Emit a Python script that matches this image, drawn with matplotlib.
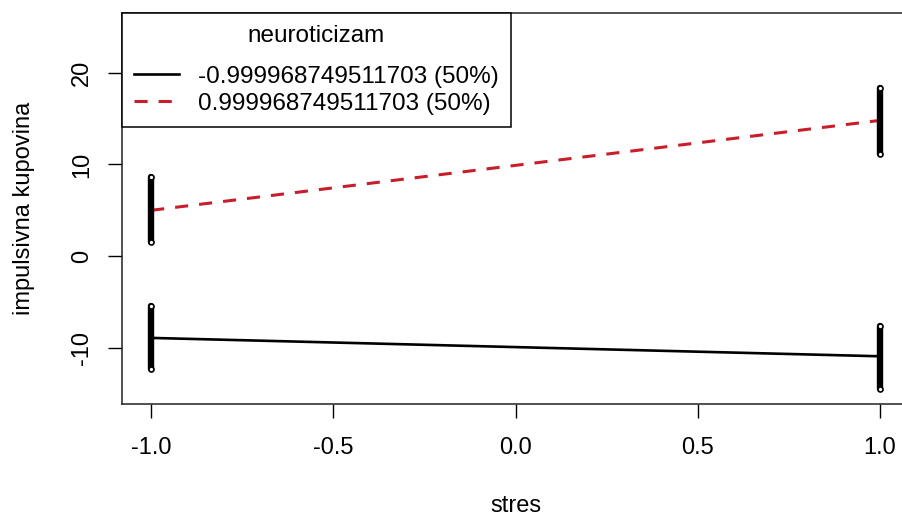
import matplotlib
matplotlib.use("Agg")
import matplotlib.pyplot as plt

plt.rcParams['font.family'] = ['Liberation Sans', 'DejaVu Sans']

# predicted lines (stres from -1 to 1) for the two neuroticizam levels
stres = [-1.0, 1.0]
fit_low = [-8.9, -10.9]
fit_high = [5.0, 14.8]
legend_labels = ["-0.999968749511703 (50%)", "0.999968749511703 (50%)"]

# observed ranges drawn as vertical strips at each stres value
strip_x = [-1.0, -1.0, 1.0, 1.0]
strip_lo = [1.5, -12.3, 11.1, -14.5]
strip_hi = [8.6, -5.4, 18.3, -7.6]

xticks = [-1.0, -0.5, 0.0, 0.5, 1.0]
yticks = [-10, 0, 10, 20]

red = '#c81e2a'
fs = 17

fig = plt.figure(figsize=(9.02, 5.18), dpi=100)
W, H = 902, 518
ax = fig.add_axes([122 / W, 1 - 404 / H, 787 / W, 391 / H])

ax.vlines(strip_x, strip_lo, strip_hi, color='black', lw=4.6, capstyle='round', zorder=3)
for x, lo, hi in zip(strip_x, strip_lo, strip_hi):
    ax.plot([x, x], [lo, hi], 'o', ms=3.6, mfc='white', mec='black', mew=1.2, zorder=4)

ax.plot(stres, fit_low, color='black', lw=1.9, label=legend_labels[0], zorder=2)
ax.plot(stres, fit_high, color=red, lw=2.2, dashes=(4.3, 3.6), label=legend_labels[1], zorder=2)

ax.set_xlim(-1.08, 1.08)
ax.set_ylim(-16.1, 26.5)
ax.set_xticks(xticks)
ax.set_xticklabels([f"{t:.1f}" for t in xticks])
ax.set_yticks(yticks)
ax.set_yticklabels([str(t) for t in yticks], rotation=90, va='center')
ax.tick_params(axis='both', direction='out', length=10, width=1.0, labelsize=fs, colors='black')
ax.tick_params(axis='x', pad=14)
ax.tick_params(axis='y', pad=11)
for s in ax.spines.values():
    s.set_linewidth(1.1)
    s.set_color('#222222')

ax.set_xlabel("stres", fontsize=fs)
ax.set_ylabel("impulsivna kupovina", fontsize=fs)
ax.xaxis.set_label_coords(0.5, -0.232)
ax.yaxis.set_label_coords(-0.1105, 0.5)

lfs = 17.5
leg = ax.legend(title="neuroticizam", loc='upper left', bbox_to_anchor=(0, 1),
                borderaxespad=0, fontsize=lfs, title_fontsize=lfs,
                frameon=True, fancybox=False, handlelength=1.85, handletextpad=0.78,
                borderpad=0.5, labelspacing=0.22, framealpha=1)
leg.get_frame().set_edgecolor('black')
leg.get_frame().set_linewidth(1.1)
# extra room between the legend title and its entries
leg._legend_box.sep = 13.2

fig.savefig("out.png", dpi=100)
